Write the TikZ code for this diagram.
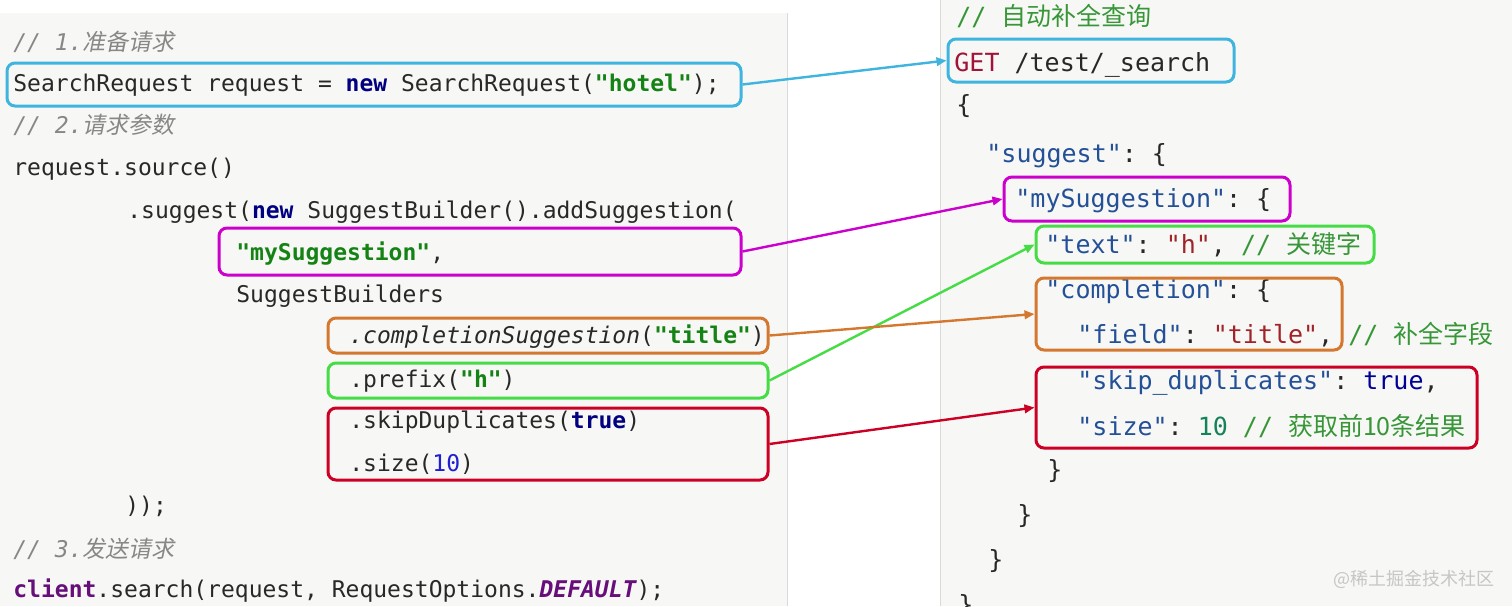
\documentclass[tikz,border=0pt]{standalone}
\usepackage{fontspec}
\setmonofont{DejaVu Sans Mono}
\newfontfamily\cjk{Noto Sans CJK SC}
\newfontfamily\cjkit[FakeSlant=0.2]{Noto Sans CJK SC}
\usepackage{tikz}
\usetikzlibrary{fit}
\usetikzlibrary{arrows.meta}
\usepackage{xcolor}
\definecolor{ColBlue}{RGB}{62,180,222}
\definecolor{ColMag}{RGB}{204,0,204}
\definecolor{ColGreen}{RGB}{70,220,70}
\definecolor{ColOrange}{RGB}{212,120,48}
\definecolor{ColRed}{RGB}{204,0,36}
\definecolor{ColPanel}{RGB}{247,247,245}
\definecolor{ColRule}{RGB}{218,218,218}
\definecolor{ColText}{RGB}{40,40,40}
\definecolor{ColKw}{RGB}{0,0,128}
\definecolor{ColStr}{RGB}{20,130,20}
\definecolor{ColCmt}{RGB}{135,135,135}
\definecolor{ColNum}{RGB}{30,30,210}
\definecolor{ColPurple}{RGB}{102,14,122}
\definecolor{ColJsKey}{RGB}{35,80,150}
\definecolor{ColJsStr}{RGB}{160,35,40}
\definecolor{ColJsGet}{RGB}{160,20,55}
\definecolor{ColJsCmt}{RGB}{55,150,55}
\definecolor{ColJsNum}{RGB}{20,130,90}
\definecolor{ColJsTrue}{RGB}{0,0,150}
\newcommand{\CodeKw}[1]{\textcolor{ColKw}{\bfseries #1}}
\newcommand{\CodeStr}[1]{\textcolor{ColStr}{\bfseries #1}}
\newcommand{\CodeCmt}[1]{\textcolor{ColCmt}{\itshape #1}}
\newcommand{\JsKey}[1]{\textcolor{ColJsKey}{#1}}
\newcommand{\JsStr}[1]{\textcolor{ColJsStr}{#1}}
\newcommand{\JsCmt}[1]{\textcolor{ColJsCmt}{#1}}
\tikzstyle{CodeL}=[anchor=base west,inner sep=0pt,text=ColText,font=\fontsize{11.5}{14}\selectfont\ttfamily]
\tikzstyle{CodeR}=[anchor=base west,inner sep=0pt,text=ColText,font=\fontsize{12.5}{15}\selectfont\ttfamily]
\tikzstyle{BoxMark}=[draw,rounded corners=4pt,line width=1.5pt,inner sep=0pt]
\tikzstyle{EdgeMark}=[line width=1.2pt,-{Triangle[length=5pt,width=4.2pt]}]

\begin{document}
\begin{tikzpicture}[x=.5pt,y=-.5pt]
        \useasboundingbox(0,0)rectangle(1512,606);
        \fill[white](0,0)rectangle(1512,606);
        \fill[ColPanel](0,13)rectangle(787,606);
        \draw[ColRule](787,13)--(787,606);
        \fill[ColPanel](940,0)rectangle(1512,606);
        \draw[ColRule](940,0)--(940,606);
        % Java
        \node[CodeL](l1)at(13,50){\CodeCmt{// 1.{\cjkit 准备请求}}};
        \node[CodeL](l2)at(13,91){SearchRequest request = \CodeKw{new} SearchRequest(\CodeStr{"hotel"});};
        \node[CodeL](l3)at(13,133){\CodeCmt{// 2.{\cjkit 请求参数}}};
        \node[CodeL](l4)at(13,175){request.source()};
        \node[CodeL](l5)at(127,218){.suggest(\CodeKw{new} SuggestBuilder().addSuggestion(};
        \node[CodeL](l6)at(236,260){\CodeStr{"mySuggestion"},};
        \node[CodeL](l7)at(236,302){SuggestBuilders};
        \node[CodeL](l8)at(349,343){{\itshape .completionSuggestion}(\CodeStr{"title"})};
        \node[CodeL](l9)at(349,387){.prefix(\CodeStr{"h"})};
        \node[CodeL](l10)at(349,428){.skipDuplicates(\CodeKw{true})};
        \node[CodeL](l11)at(349,471){.size(\textcolor{ColNum}{10})};
        \node[CodeL](l12)at(125,513){));};
        \node[CodeL](l13)at(13,557){\CodeCmt{// 3.{\cjkit 发送请求}}};
        \node[CodeL](l14)at(13,597){\textcolor{ColPurple}{\bfseries client}.search(request, RequestOptions.\textcolor{ColPurple}{\bfseries\itshape DEFAULT});};
        % DSL
        \node[CodeR](r1)at(956,25){\JsCmt{// {\cjk 自动补全查询}}};
        \node[CodeR](r2)at(954,71){\textcolor{ColJsGet}{GET} /test/\_search};
        \node[CodeR](r3)at(956,113){\{};
        \node[CodeR](r4)at(986,162){\JsKey{"suggest"}: \{};
        \node[CodeR](r5)at(1015,207){\JsKey{"mySuggestion"}: \{};
        \node[CodeR](r6)at(1045,253){\JsKey{"text"}: \JsStr{"h"}, \JsCmt{// {\cjk 关键字}}};
        \node[CodeR](r7)at(1045,298){\JsKey{"completion"}: \{};
        \node[CodeR](r8)at(1077,343){\JsKey{"field"}: \JsStr{"title"}, \JsCmt{// {\cjk 补全字段}}};
        \node[CodeR](r9)at(1077,389){\JsKey{"skip\_duplicates"}: \textcolor{ColJsTrue}{true},};
        \node[CodeR](r10)at(1077,435){\JsKey{"size"}: \textcolor{ColJsNum}{10} \JsCmt{// {\cjk 获取前10条结果}}};
        \node[CodeR](r11)at(1047,478){\}};
        \node[CodeR](r12)at(1017,523){\}};
        \node[CodeR](r13)at(988,568){\}};
        \node[CodeR](r14)at(958,613){\}};
        \node[anchor=base west,inner sep=0pt,text=gray!45,font=\fontsize{9}{11}\selectfont\cjk](wm)at(1333,585){@稀土掘金技术社区};
        % marks
        \node[BoxMark,ColBlue,fit={(7,63)(741,106)}](bReq){};
        \node[BoxMark,ColMag,fit={(219,228)(741,275)}](bSug){};
        \node[BoxMark,ColOrange,fit={(328,318)(768,353)}](bComp){};
        \node[BoxMark,ColGreen,fit={(328,363)(768,398)}](bPre){};
        \node[BoxMark,ColRed,fit={(328,408)(768,480)}](bSkip){};
        \node[BoxMark,ColBlue,fit={(948,39)(1234,82)}](bGet){};
        \node[BoxMark,ColMag,fit={(1004,177)(1290,221)}](bMy){};
        \node[BoxMark,ColGreen,fit={(1036,226)(1374,263)}](bText){};
        \node[BoxMark,ColOrange,fit={(1036,278)(1342,350)}](bField){};
        \node[BoxMark,ColRed,fit={(1036,367)(1477,448)}](bSize){};
        \draw[EdgeMark,ColBlue](bReq.east)--(bGet.west);
        \draw[EdgeMark,ColMag](bSug.east)--(bMy.west);
        \draw[EdgeMark,ColGreen](bPre.east)--(bText.west);
        \draw[EdgeMark,ColOrange](bComp.east)--(bField.west);
        \draw[EdgeMark,ColRed](bSkip.east)--(bSize.west);
    \end{tikzpicture}
\end{document}
